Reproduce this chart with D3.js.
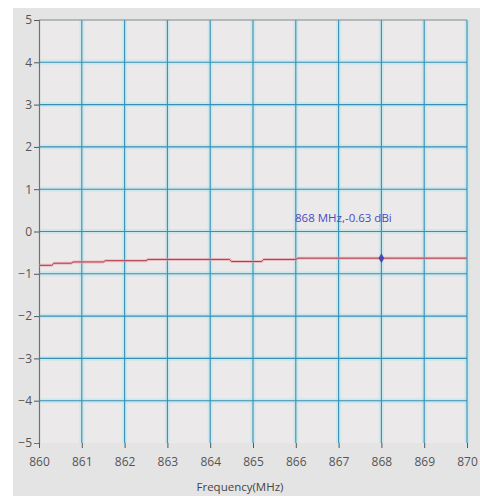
<!DOCTYPE html>
<html>
<head>
<meta charset="utf-8">
<script src="https://cdn.jsdelivr.net/npm/d3@7"></script>
<style>
  body { margin: 0; background: #fff; }
  svg { display: block; }
</style>
</head>
<body>
<div class="gain-chart"></div>
<script>
// Gain over frequency
const freqs = [860, 860.3, 860.35, 860.75, 860.8, 861.5, 861.55, 862.5, 862.55, 864.45, 864.5, 865.2, 865.25, 866.0, 866.05, 868, 870];
const gains = [-0.80, -0.80, -0.75, -0.75, -0.72, -0.72, -0.69, -0.69, -0.66, -0.66, -0.71, -0.71, -0.66, -0.66, -0.63, -0.63, -0.63];
const xTicks = [860, 861, 862, 863, 864, 865, 866, 867, 868, 869, 870];
const yTicks = [5, 4, 3, 2, 1, 0, -1, -2, -3, -4, -5];
const markerFreq = 868;
const markerGain = -0.63;

const W = 480, H = 496;
const margin = {top: 20, right: 13, bottom: 53, left: 39};
const width = W - margin.left - margin.right,
      height = H - margin.top - margin.bottom;

const root = d3.select(".gain-chart")
    .append("svg")
    .attr("width", W)
    .attr("height", H);

// panel background
root.append("rect")
    .attr("x", 13).attr("y", 8)
    .attr("width", W - 13).attr("height", H - 8)
    .attr("fill", "#e4e4e4");

const svg = root.append("g")
    .attr("transform", `translate(${margin.left},${margin.top})`);

const x = d3.scaleLinear().domain([860, 870]).range([0, width]);
const y = d3.scaleLinear().domain([-5, 5]).range([height, 0]);

// plot area
svg.append("rect")
    .attr("width", width).attr("height", height)
    .attr("fill", "#ebe9ea");

// grid with soft cyan halo
const grid = svg.append("g");
function gridLines(cls, halo, col, w) {
    grid.selectAll("line." + cls + "v")
        .data(xTicks.slice(1))
        .join("line")
        .attr("class", cls + "v")
        .attr("x1", d => x(d)).attr("x2", d => x(d))
        .attr("y1", 0).attr("y2", height)
        .attr("stroke", col).attr("stroke-width", w)
        .attr("stroke-opacity", halo);
    grid.selectAll("line." + cls + "h")
        .data(yTicks.slice(1, -1))
        .join("line")
        .attr("class", cls + "h")
        .attr("x1", 0).attr("x2", width)
        .attr("y1", d => y(d)).attr("y2", d => y(d))
        .attr("stroke", col).attr("stroke-width", w)
        .attr("stroke-opacity", halo);
}
gridLines("halo", 0.3, "#8fe3f0", 5);
gridLines("core", 1, "#3a8db3", 1.1);

// top border
svg.append("line")
    .attr("x1", 0).attr("x2", width)
    .attr("y1", 0).attr("y2", 0)
    .attr("stroke", "#7f8a90").attr("stroke-width", 1.2);

// axes
const yAxis = svg.append("g")
    .call(d3.axisLeft(y).tickValues(yTicks).tickSize(5).tickPadding(2).tickFormat(d3.format("d")));
const xAxis = svg.append("g")
    .attr("transform", `translate(0,${height})`)
    .call(d3.axisBottom(x).tickValues(xTicks).tickSize(5).tickPadding(9).tickFormat(d3.format("d")));

[xAxis, yAxis].forEach(a => {
    a.select(".domain").attr("stroke", "#6c7378").attr("stroke-width", 1.2);
    a.selectAll(".tick line").attr("stroke", "#555");
    a.selectAll("text")
        .attr("fill", "#555")
        .style("font-family", "'Open Sans', 'DejaVu Sans', sans-serif")
        .style("font-size", "12px");
});
yAxis.selectAll(".tick").filter(d => d === -5).select("line").remove();
xAxis.select(".domain").attr("stroke", "none");

// gain curve
svg.append("path")
    .datum(freqs.map((f, i) => [f, gains[i]]))
    .attr("fill", "none")
    .attr("stroke", "#e8a0a8")
    .attr("stroke-width", 3)
    .attr("stroke-opacity", 0.6)
    .attr("d", d3.line().x(d => x(d[0])).y(d => y(d[1])));
svg.append("path")
    .datum(freqs.map((f, i) => [f, gains[i]]))
    .attr("fill", "none")
    .attr("stroke", "#b23a48")
    .attr("stroke-width", 1)
    .attr("d", d3.line().x(d => x(d[0])).y(d => y(d[1])));

// marker
svg.append("path")
    .attr("transform", `translate(${x(markerFreq)},${y(markerGain)})`)
    .attr("d", d3.symbol().type(d3.symbolDiamond).size(28)())
    .attr("fill", "#4646b4");

svg.append("text")
    .attr("x", x(markerFreq) - 38)
    .attr("y", y(markerGain) - 36)
    .attr("text-anchor", "middle")
    .attr("fill", "#4a4ac8")
    .style("font-family", "'Open Sans', 'DejaVu Sans', sans-serif")
    .style("font-size", "11.5px")
    .text(`${markerFreq} MHz,${markerGain} dBi`);

// x-axis label
svg.append("text")
    .attr("x", width / 2 - 13)
    .attr("y", height + 48)
    .attr("text-anchor", "middle")
    .attr("fill", "#444")
    .style("font-family", "'Open Sans', 'DejaVu Sans', sans-serif")
    .style("font-size", "11.5px")
    .text("Frequency(MHz)");
</script>
</body>
</html>
